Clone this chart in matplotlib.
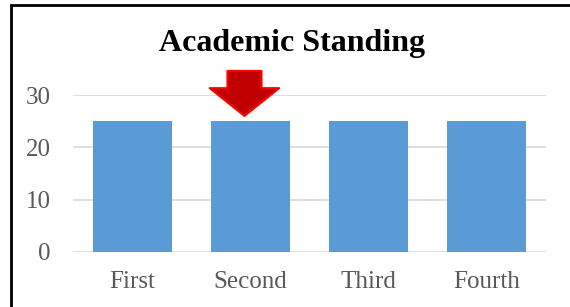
import matplotlib
matplotlib.use("Agg")
import matplotlib.pyplot as plt
from matplotlib.patches import Rectangle

categories = ["First", "Second", "Third", "Fourth"]
values = [25, 25, 25, 25]
yticks = [0, 10, 20, 30]
title = "Academic Standing"
highlight = 1

W, H = 570, 307
fig = plt.figure(figsize=(W / 100, H / 100), dpi=100)
ax = fig.add_axes([73 / W, 1 - 252 / H, (546 - 73) / W, (252 - 95) / H])
ax.set_ylim(0, 30)

ax.bar(range(len(categories)), values, width=0.67, color="#5B9BD5", zorder=2)
ax.set_xlim(-0.5, len(categories) - 0.5)
ax.set_yticks(yticks)
ax.set_xticks(range(len(categories)))
ax.set_xticklabels(categories)
ax.grid(axis="y", color="#D9D9D9", linewidth=1.2, zorder=0)
for s in ax.spines.values():
    s.set_visible(False)
ax.tick_params(length=0, labelsize=18, labelcolor="#595959")
for lab in ax.get_xticklabels() + ax.get_yticklabels():
    lab.set_fontfamily("Liberation Serif")
ax.xaxis.set_tick_params(pad=14)
ax.yaxis.set_tick_params(pad=16)

fig.text(292 / W, 1 - 43 / H, title, ha="center", va="center",
         fontsize=23, fontweight="bold", family="Liberation Serif")

ax.annotate("", xy=(highlight - 0.05, values[highlight] + 1.0),
            xytext=(highlight - 0.05, values[highlight] + 9.6),
            arrowprops=dict(arrowstyle="simple,head_width=5.0,head_length=2.0,tail_width=2.45",
                            mutation_scale=10, fc="#C00000", ec="#FF0000", lw=1.5,
                            shrinkA=0, shrinkB=0),
            annotation_clip=False, zorder=5)

fig.patches.append(Rectangle((11 / W, -0.1), 1.2, 1 - 5 / H + 0.1, transform=fig.transFigure,
                             fill=False, edgecolor="black", linewidth=2))

fig.savefig("out.png", dpi=100)
